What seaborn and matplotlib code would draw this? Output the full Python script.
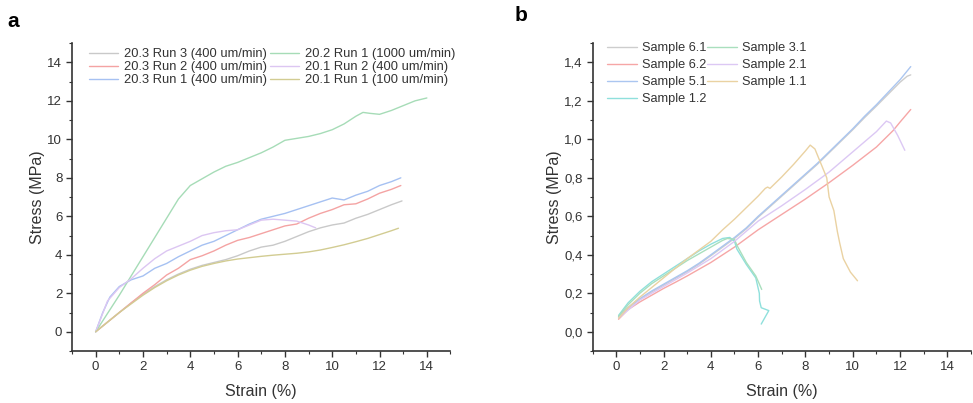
import numpy as np
import pandas as pd
import matplotlib
matplotlib.use("Agg")
import matplotlib.pyplot as plt
import seaborn as sns
from matplotlib.ticker import AutoMinorLocator

# ---- panel a: stress-strain curves (strain %, stress MPa) ----
a_names = ['20.3 Run 3 (400 um/min)', '20.3 Run 2 (400 um/min)', '20.3 Run 1 (400 um/min)',
           '20.2 Run 1 (1000 um/min)', '20.1 Run 2 (400 um/min)', '20.1 Run 1 (100 um/min)']
a_colors = ['#c9c9c9', '#f4a3a3', '#a6c1f2', '#a6dcb7', '#dcc6f2', '#d2cc92']

run33_x = [0, 0.5, 1, 1.5, 2, 2.5, 3, 3.5, 4, 4.5, 5, 5.5, 6, 6.5, 7, 7.5, 8, 8.5, 9, 9.5, 10, 10.5, 11, 11.5, 12, 12.5, 12.95]
run33_y = [0, 0.5, 1.0, 1.5, 1.95, 2.35, 2.7, 3.0, 3.25, 3.45, 3.6, 3.75, 3.95, 4.2, 4.4, 4.5, 4.7, 4.95, 5.2, 5.4, 5.55, 5.65, 5.9, 6.1, 6.35, 6.6, 6.8]
run32_x = [0, 0.5, 1, 1.5, 2, 2.5, 3, 3.5, 4, 4.5, 5, 5.5, 6, 6.5, 7, 7.5, 8, 8.5, 9, 9.5, 10, 10.5, 11, 11.5, 12, 12.5, 12.9]
run32_y = [0, 0.5, 1.0, 1.5, 2.0, 2.45, 2.95, 3.3, 3.75, 3.95, 4.2, 4.5, 4.75, 4.9, 5.1, 5.3, 5.5, 5.6, 5.9, 6.15, 6.35, 6.6, 6.65, 6.9, 7.2, 7.4, 7.6]
run31_x = [0, 0.3, 0.6, 1, 1.5, 2, 2.5, 3, 3.5, 4, 4.5, 5, 5.5, 6, 6.5, 7, 7.5, 8, 8.5, 9, 9.5, 10, 10.5, 11, 11.5, 12, 12.5, 12.9]
run31_y = [0, 1.0, 1.8, 2.35, 2.7, 2.9, 3.3, 3.55, 3.9, 4.2, 4.5, 4.7, 5.0, 5.3, 5.6, 5.85, 6.0, 6.15, 6.35, 6.55, 6.75, 6.95, 6.85, 7.1, 7.3, 7.6, 7.8, 8.0]
run21_x = [0, 0.5, 1, 1.5, 2, 2.5, 3, 3.5, 4, 4.5, 5, 5.5, 6, 6.5, 7, 7.5, 8, 8.5, 9, 9.5, 10, 10.5, 11, 11.3, 11.6, 12, 12.5, 13, 13.5, 14]
run21_y = [0, 0.95, 1.9, 2.9, 3.9, 4.9, 5.9, 6.9, 7.6, 7.95, 8.3, 8.6, 8.8, 9.05, 9.3, 9.6, 9.95, 10.05, 10.15, 10.3, 10.5, 10.8, 11.2, 11.4, 11.35, 11.3, 11.5, 11.75, 12.0, 12.15]
run12_x = [0, 0.5, 1, 1.5, 2, 2.5, 3, 3.5, 4, 4.5, 5, 5.5, 6, 6.5, 7, 7.5, 8, 8.5, 9, 9.3]
run12_y = [0, 1.6, 2.3, 2.75, 3.3, 3.8, 4.2, 4.45, 4.7, 5.0, 5.15, 5.25, 5.3, 5.55, 5.8, 5.85, 5.8, 5.75, 5.55, 5.4]
run11_x = [0, 0.5, 1, 1.5, 2, 2.5, 3, 3.5, 4, 4.5, 5, 5.5, 6, 6.5, 7, 7.5, 8, 8.5, 9, 9.5, 10, 10.5, 11, 11.5, 12, 12.5, 12.8]
run11_y = [0, 0.5, 1.0, 1.45, 1.9, 2.3, 2.65, 2.95, 3.2, 3.4, 3.55, 3.68, 3.78, 3.85, 3.92, 3.98, 4.03, 4.08, 4.15, 4.25, 4.38, 4.52, 4.68, 4.85, 5.05, 5.25, 5.38]

a_xs = [run33_x, run32_x, run31_x, run21_x, run12_x, run11_x]
a_ys = [run33_y, run32_y, run31_y, run21_y, run12_y, run11_y]

# ---- panel b ----
b_names = ['Sample 6.1', 'Sample 6.2', 'Sample 5.1', 'Sample 1.2', 'Sample 3.1', 'Sample 2.1', 'Sample 1.1']
b_colors = ['#cdcdcd', '#f6a6a6', '#abc6f0', '#8fe0dc', '#a9dfbd', '#dcc8f4', '#ead2a2']

s61_x = [0.1, 0.5, 1, 1.5, 2, 2.5, 3, 3.5, 4, 4.5, 5, 5.5, 6, 6.5, 7, 7.5, 8, 8.5, 9, 9.5, 10, 10.5, 11, 11.5, 12, 12.3, 12.45]
s61_y = [0.075, 0.123, 0.168, 0.207, 0.242, 0.277, 0.312, 0.351, 0.395, 0.44, 0.485, 0.535, 0.595, 0.65, 0.705, 0.76, 0.815, 0.87, 0.93, 0.99, 1.05, 1.113, 1.173, 1.235, 1.297, 1.328, 1.335]
s62_x = [0.1, 0.5, 1, 1.5, 2, 2.5, 3, 3.5, 4, 5, 6, 7, 8, 9, 10, 11, 11.7, 12, 12.45]
s62_y = [0.065, 0.115, 0.155, 0.19, 0.225, 0.257, 0.29, 0.325, 0.36, 0.44, 0.53, 0.61, 0.69, 0.775, 0.865, 0.96, 1.045, 1.09, 1.155]
s51_x = [0.1, 0.5, 1, 1.5, 2, 2.5, 3, 3.5, 4, 4.5, 5, 5.5, 6, 6.5, 7, 7.5, 8, 8.5, 9, 9.5, 10, 10.5, 11, 11.5, 12, 12.45]
s51_y = [0.078, 0.127, 0.172, 0.212, 0.247, 0.282, 0.317, 0.356, 0.4, 0.445, 0.49, 0.54, 0.6, 0.655, 0.71, 0.765, 0.82, 0.875, 0.935, 0.995, 1.055, 1.12, 1.18, 1.245, 1.31, 1.378]
s12_x = [0.1, 0.5, 1, 1.5, 2, 2.5, 3, 3.5, 4, 4.5, 4.8, 5.0, 5.1, 5.5, 5.9, 6.05, 6.06, 6.13, 6.45, 6.13]
s12_y = [0.085, 0.15, 0.21, 0.26, 0.3, 0.34, 0.38, 0.42, 0.455, 0.485, 0.49, 0.47, 0.43, 0.35, 0.28, 0.2, 0.16, 0.125, 0.11, 0.04]
s31_x = [0.1, 0.5, 1, 1.5, 2, 2.5, 3, 3.5, 4, 4.5, 4.7, 5.0, 5.1, 5.5, 5.9, 6.15]
s31_y = [0.08, 0.14, 0.2, 0.25, 0.29, 0.33, 0.37, 0.405, 0.44, 0.475, 0.485, 0.48, 0.45, 0.36, 0.29, 0.22]
s21_x = [0.1, 1, 2, 3, 4, 5, 6, 7, 8, 9, 10, 11, 11.42, 11.6, 11.9, 12.2]
s21_y = [0.07, 0.165, 0.235, 0.305, 0.38, 0.47, 0.575, 0.655, 0.74, 0.83, 0.935, 1.04, 1.095, 1.085, 1.02, 0.943]
s11_x = [0.1, 0.5, 1, 1.5, 2, 2.5, 3, 3.5, 4, 4.5, 5, 5.5, 6, 6.3, 6.4, 6.5, 7, 7.5, 8, 8.2, 8.4, 8.6, 8.9, 9.0, 9.2, 9.35, 9.45, 9.6, 9.9, 10.2]
s11_y = [0.07, 0.125, 0.18, 0.23, 0.28, 0.33, 0.38, 0.425, 0.47, 0.53, 0.585, 0.645, 0.705, 0.745, 0.752, 0.745, 0.805, 0.87, 0.94, 0.97, 0.95, 0.89, 0.8, 0.7, 0.63, 0.52, 0.46, 0.38, 0.31, 0.265]

b_xs = [s61_x, s62_x, s51_x, s12_x, s31_x, s21_x, s11_x]
b_ys = [s61_y, s62_y, s51_y, s12_y, s31_y, s21_y, s11_y]

ticks = [0, 2, 4, 6, 8, 10, 12, 14]
a_yticks = [0, 2, 4, 6, 8, 10, 12, 14]
b_yticks = [0.0, 0.2, 0.4, 0.6, 0.8, 1.0, 1.2, 1.4]
b_ytick_labels = ['0,0', '0,2', '0,4', '0,6', '0,8', '1,0', '1,2', '1,4']


def long_frame(names, xs, ys):
    parts = []
    for n, x, y in zip(names, xs, ys):
        parts.append(pd.DataFrame({'strain': x, 'stress': y, 'name': n}))
    return pd.concat(parts, ignore_index=True)


sns.set_style("ticks")
plt.rcParams['font.family'] = ['Liberation Sans', 'DejaVu Sans']
plt.rcParams['axes.edgecolor'] = '#333333'
plt.rcParams['xtick.color'] = '#333333'
plt.rcParams['ytick.color'] = '#333333'
plt.rcParams['text.color'] = '#333333'
plt.rcParams['axes.labelcolor'] = '#333333'

fig = plt.figure(figsize=(9.73, 4.03), dpi=100)
ax_a = fig.add_axes([0.074, 0.129, 0.389, 0.764])
ax_b = fig.add_axes([0.609, 0.129, 0.389, 0.764])

df_a = long_frame(a_names, a_xs, a_ys)
df_b = long_frame(b_names, b_xs, b_ys)

sns.lineplot(data=df_a, x='strain', y='stress', hue='name', hue_order=a_names,
             palette=dict(zip(a_names, a_colors)), sort=False, estimator=None,
             linewidth=1.0, ax=ax_a)
sns.lineplot(data=df_b, x='strain', y='stress', hue='name', hue_order=b_names,
             palette=dict(zip(b_names, b_colors)), sort=False, estimator=None,
             linewidth=1.0, ax=ax_b)

for ax in (ax_a, ax_b):
    sns.despine(ax=ax)
    ax.set_xlim(-1, 15)
    ax.set_xticks(ticks)
    ax.xaxis.set_minor_locator(AutoMinorLocator(2))
    ax.yaxis.set_minor_locator(AutoMinorLocator(2))
    ax.tick_params(which='major', length=4, width=1.0, labelsize=9.5, pad=3)
    ax.tick_params(which='minor', length=2.5, width=0.8)
    ax.spines['left'].set_linewidth(1.2)
    ax.spines['bottom'].set_linewidth(1.2)
    ax.set_xlabel('Strain (%)', fontsize=11.5, labelpad=8)
    ax.set_ylabel('Stress (MPa)', fontsize=11.5, labelpad=2)

ax_a.set_ylim(-1, 15)
ax_a.set_yticks(a_yticks)
ax_b.set_ylim(-0.1, 1.5)
ax_b.set_yticks(b_yticks)
ax_b.set_yticklabels(b_ytick_labels)

ax_a.legend(ncol=2, frameon=False, fontsize=9.3, loc='upper left',
            bbox_to_anchor=(0.03, 1.0), handlelength=2.3, handletextpad=0.45,
            columnspacing=0.2, labelspacing=0.08, borderaxespad=0.0)
ax_b.legend(ncol=2, frameon=False, fontsize=9.2, loc='upper left',
            bbox_to_anchor=(0.025, 1.02), handlelength=2.3, handletextpad=0.4,
            columnspacing=0.1, labelspacing=0.4, borderaxespad=0.0)

fig.text(0.008, 0.97, 'a', fontsize=15, fontweight='bold', va='top', color='black')
fig.text(0.529, 0.985, 'b', fontsize=15, fontweight='bold', va='top', color='black')

fig.savefig('out.png', dpi=100)
